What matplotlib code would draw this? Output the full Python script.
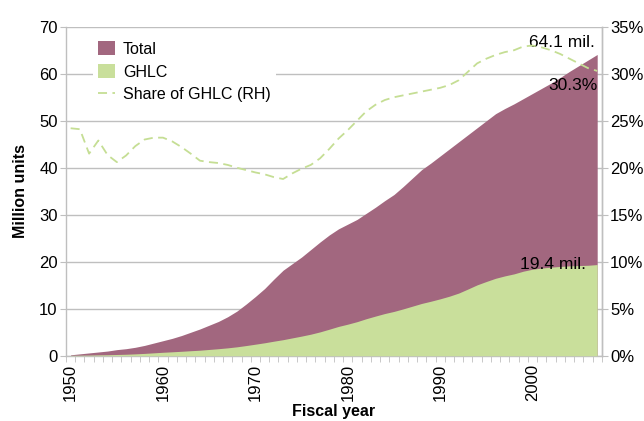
import matplotlib
matplotlib.use("Agg")
import matplotlib.pyplot as plt
import numpy as np
from matplotlib import font_manager
from matplotlib.lines import Line2D
from matplotlib.patches import Patch

years = np.arange(1950, 2008)

total = [
    0.2, 0.4, 0.6, 0.8, 1.0, 1.3, 1.5, 1.8, 2.2, 2.7,
    3.2, 3.7, 4.3, 5.0, 5.7, 6.5, 7.3, 8.3, 9.5, 11.0,
    12.6, 14.3, 16.3, 18.2, 19.6, 21.0, 22.6, 24.2, 25.7, 27.0,
    28.0, 29.0, 30.3, 31.6, 33.0, 34.3, 36.0, 37.8, 39.6, 41.0,
    42.5, 44.0, 45.5, 47.0, 48.5, 50.0, 51.5, 52.6, 53.6, 54.7,
    55.8, 56.9, 58.0, 59.2, 60.5, 61.7, 62.9, 64.1,
]

ghlc = [
    0.07, 0.10, 0.13, 0.18, 0.21, 0.27, 0.32, 0.40, 0.50, 0.62,
    0.74, 0.84, 0.95, 1.07, 1.18, 1.34, 1.50, 1.68, 1.90, 2.17,
    2.46, 2.76, 3.10, 3.42, 3.80, 4.18, 4.59, 5.08, 5.65, 6.24,
    6.72, 7.25, 7.88, 8.44, 8.98, 9.43, 9.97, 10.55, 11.13, 11.60,
    12.11, 12.67, 13.33, 14.19, 15.08, 15.80, 16.48, 16.99, 17.42, 17.99,
    18.41, 18.66, 18.85, 19.00, 19.12, 19.19, 19.25, 19.40,
]

share = [
    24.2, 24.1, 21.5, 22.9, 21.35, 20.6, 21.3, 22.3, 23.0, 23.2,
    23.2, 22.8, 22.2, 21.5, 20.75, 20.6, 20.5, 20.3, 20.0, 19.75,
    19.5, 19.3, 19.0, 18.8, 19.4, 19.9, 20.3, 21.0, 22.0, 23.1,
    24.0, 25.0, 26.0, 26.7, 27.2, 27.5, 27.7, 27.9, 28.1, 28.3,
    28.5, 28.8, 29.3, 30.2, 31.1, 31.6, 32.0, 32.3, 32.5, 32.9,
    33.0, 32.8, 32.5, 32.1, 31.6, 31.1, 30.6, 30.3,
]

# pick a narrow font if available
names = {f.name for f in font_manager.fontManager.ttflist}
font = "Liberation Sans Narrow" if "Liberation Sans Narrow" in names else "Liberation Sans"
plt.rcParams["font.family"] = [font, "DejaVu Sans"]

c_total = "#a2677f"
c_ghlc = "#c9df9b"
c_share = "#c5de94"
c_grid = "#bfbfbf"

fig = plt.figure(figsize=(6.44, 4.21), dpi=100)
ax = fig.add_axes([0.1025, 0.155, 0.832, 0.7815])
ax2 = ax.twinx()

ax.fill_between(years, 0, total, color=c_total, linewidth=0, zorder=2)
ax.fill_between(years, 0, ghlc, color=c_ghlc, linewidth=0, zorder=3)
ax2.plot(years, share, color=c_share, linestyle=(0, (5, 3)), linewidth=1.3, zorder=4)

ax.set_xlim(1949.5, 2007.5)
ax.set_ylim(0, 70)
ax2.set_ylim(0, 35)

ax.set_yticks(np.arange(0, 71, 10))
ax2.set_yticks(np.arange(0, 36, 5))
ax2.set_yticklabels([f"{v}%" for v in range(0, 36, 5)])
ax.set_xticks(np.arange(1950, 2001, 10))
ax.set_xticklabels([str(v) for v in range(1950, 2001, 10)], rotation=90)
ax.set_xticks(np.arange(1949.5, 2008, 1), minor=True)

ax.grid(axis="y", color=c_grid, linewidth=1.0, zorder=0)
ax.set_axisbelow(True)

for a in (ax, ax2):
    a.spines["top"].set_visible(False)
    for side in ("left", "right", "bottom"):
        a.spines[side].set_color(c_grid)
        a.spines[side].set_linewidth(1.0)
ax2.spines["left"].set_visible(False)
ax2.spines["bottom"].set_visible(False)

ax.tick_params(axis="y", length=4, color=c_grid, labelsize=12, pad=2)
ax2.tick_params(axis="y", length=4, color=c_grid, labelsize=12, pad=2)
ax.tick_params(axis="x", which="major", length=0, labelsize=12, pad=6)
ax.tick_params(axis="x", which="minor", length=4, color=c_grid)

ax.set_ylabel("Million units", fontsize=11.5, fontweight="bold", labelpad=8)
ax.set_xlabel("Fiscal year", fontsize=11.5, fontweight="bold", labelpad=2)

ax.text(2006.8, total[-1] + 2.5, f"{total[-1]} mil.", ha="right", va="center",
        fontsize=12.5, zorder=6)
ax2.text(2007.0, share[-1] - 1.5, f"{share[-1]}%", ha="right", va="center",
         fontsize=12.5, zorder=6)
ax.text(2005.8, ghlc[-1], f"{ghlc[-1]} mil.", ha="right", va="center",
        fontsize=12.5, zorder=6)

handles = [
    Patch(facecolor=c_total, edgecolor="none"),
    Patch(facecolor=c_ghlc, edgecolor="none"),
    Line2D([0], [0], color=c_share, linestyle=(0, (5, 3)), linewidth=1.3),
]
leg = ax2.legend(handles, ["Total", "GHLC", "Share of GHLC (RH)"],
                 loc="upper left", bbox_to_anchor=(0.035, 0.995), fontsize=11.5,
                 frameon=True, framealpha=1, edgecolor="none", fancybox=False,
                 handlelength=1.1, handleheight=1.0, handletextpad=0.5,
                 labelspacing=0.45, borderpad=0.3)
leg.get_frame().set_linewidth(0)

fig.savefig("out.png", dpi=100)
